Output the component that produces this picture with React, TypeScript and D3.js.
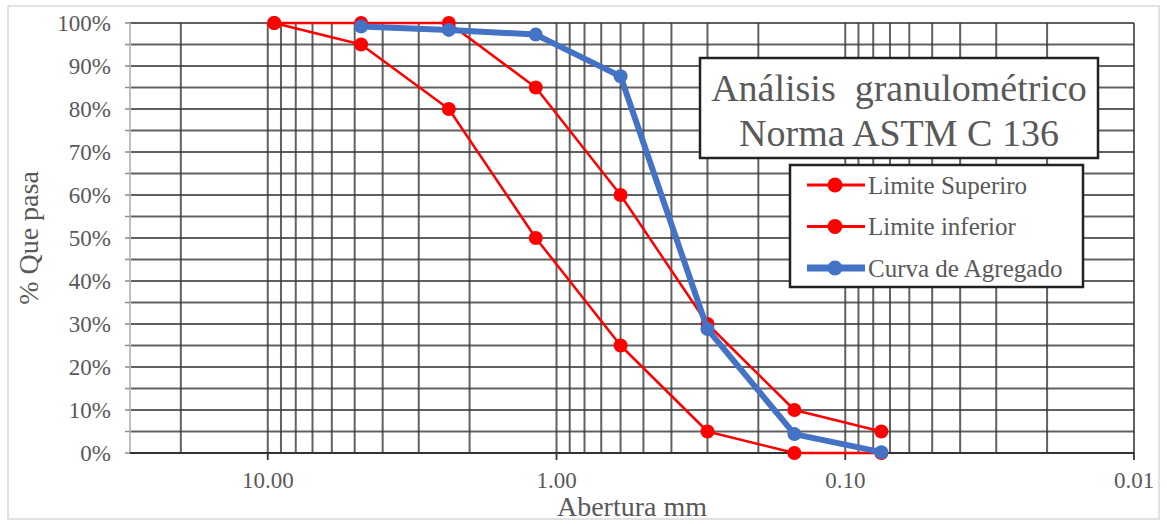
import React from "react";
import * as d3 from "d3";

// sieve openings in mm
const sieveSizes = [9.5, 4.75, 2.36, 1.18, 0.6, 0.3, 0.15, 0.075];
const upperLimit = [100, 100, 100, 85, 60, 30, 10, 5];
const lowerLimit = [100, 95, 80, 50, 25, 5, 0, 0];
const aggregateSizes = [4.75, 2.36, 1.18, 0.6, 0.3, 0.15, 0.075];
const aggregateCurve = [99.2, 98.4, 97.3, 87.6, 28.8, 4.4, 0.2];

const xTickValues = [10, 1, 0.1, 0.01];
const yTickValues = [0, 10, 20, 30, 40, 50, 60, 70, 80, 90, 100];

const titleLines = ["Análisis  granulométrico", "Norma ASTM C 136"];
const legendLabels = ["Limite Superiro", "Limite inferior", "Curva de Agregado"];

const serif = "'Liberation Serif', 'Times New Roman', serif";

const App = () => {
    const layout = { width: 1167, height: 524 };
    const plot = { left: 130, right: 1134, top: 23, bottom: 453 };

    const xScale = d3.scaleLog().domain([30, 0.01]).range([plot.left, plot.right]);
    const yScale = d3.scaleLinear().domain([0, 100]).range([plot.bottom, plot.top]);

    const lineGen = d3
        .line<[number, number]>()
        .x(d => xScale(d[0]))
        .y(d => yScale(d[1]));

    // minor grid: 1..9 in each decade, inside the domain
    const vLines: number[] = [];
    [10, 1, 0.1, 0.01].forEach(dec => {
        for (let m = 1; m <= 9; m++) {
            const v = dec * m;
            if (v < 30 && v >= 0.01) vLines.push(v);
        }
    });
    const hLines = d3.range(0, 101, 5);

    const upper = sieveSizes.map((s, i) => [s, upperLimit[i]] as [number, number]);
    const lower = sieveSizes.map((s, i) => [s, lowerLimit[i]] as [number, number]);
    const agg = aggregateSizes.map((s, i) => [s, aggregateCurve[i]] as [number, number]);

    const series = [
        { label: legendLabels[0], data: upper, color: "#ff0000", width: 2.5, lw: 3, r: 7 },
        { label: legendLabels[1], data: lower, color: "#ff0000", width: 2.5, lw: 3, r: 7 },
        { label: legendLabels[2], data: agg, color: "#4472c4", width: 6, lw: 7, r: 7 }
    ];

    const gridColor = "#3a3a3a";
    const textColor = "#595959";

    return (
        <svg
            width={layout.width}
            height={layout.height}
            style={{ position: "absolute", left: 0, top: 0, background: "#fff" }}
        >
            <rect x={8} y={6} width={1151} height={513} fill="#fff" stroke="#d9d9d9" strokeWidth={1.5} />

            {vLines.map(v => (
                <line
                    key={"v" + v}
                    x1={xScale(v)}
                    x2={xScale(v)}
                    y1={plot.top}
                    y2={plot.bottom}
                    stroke={gridColor}
                    strokeWidth={2}
                    strokeOpacity={0.8}
                />
            ))}
            {hLines.map(v => (
                <line
                    key={"h" + v}
                    x1={plot.left}
                    x2={plot.right}
                    y1={yScale(v)}
                    y2={yScale(v)}
                    stroke={gridColor}
                    strokeWidth={2}
                    strokeOpacity={0.8}
                />
            ))}
            {/* axes */}
            <line x1={plot.left} x2={plot.left} y1={plot.top} y2={plot.bottom} stroke="#bfbfbf" strokeWidth={2} />
            {hLines.map(v => (
                <line
                    key={"yt" + v}
                    x1={plot.left - 5}
                    x2={plot.left}
                    y1={yScale(v)}
                    y2={yScale(v)}
                    stroke="#8c8c8c"
                    strokeWidth={1.5}
                />
            ))}
            <line x1={plot.left} x2={plot.right} y1={plot.bottom} y2={plot.bottom} stroke="#333" strokeWidth={2} />
            {xTickValues.map(v => (
                <line
                    key={"xt" + v}
                    x1={xScale(v)}
                    x2={xScale(v)}
                    y1={plot.bottom}
                    y2={plot.bottom + 7}
                    stroke="#333"
                    strokeWidth={1.8}
                />
            ))}

            {yTickValues.map(v => (
                <text
                    key={"yl" + v}
                    x={plot.left - 19}
                    y={yScale(v)}
                    dy="0.35em"
                    textAnchor="end"
                    fontFamily={serif}
                    fontSize={23}
                    fill={textColor}
                >
                    {v}%
                </text>
            ))}
            {xTickValues.map(v => (
                <text
                    key={"xl" + v}
                    x={xScale(v)}
                    y={488}
                    textAnchor="middle"
                    fontFamily={serif}
                    fontSize={23}
                    fill={textColor}
                >
                    {d3.format(".2f")(v)}
                </text>
            ))}
            <text x={632} y={516} textAnchor="middle" fontFamily={serif} fontSize={28} fill={textColor}>
                Abertura mm
            </text>
            <text
                transform="translate(38,238) rotate(-90)"
                textAnchor="middle"
                fontFamily={serif}
                fontSize={28}
                fill={textColor}
            >
                % Que pasa
            </text>

            {series.map(s => (
                <g key={s.label}>
                    <path d={lineGen(s.data) || ""} fill="none" stroke={s.color} strokeWidth={s.width} strokeLinejoin="round" />
                    {s.data.map((d, i) => (
                        <circle key={i} cx={xScale(d[0])} cy={yScale(d[1])} r={s.r} fill={s.color} />
                    ))}
                </g>
            ))}

            {/* title box */}
            <rect x={700} y={58} width={398} height={100} fill="#fff" stroke="#222" strokeWidth={2.5} />
            {titleLines.map((t, i) => (
                <text
                    key={t}
                    x={899}
                    y={101 + i * 45}
                    textAnchor="middle"
                    fontFamily={serif}
                    fontSize={38}
                    fill={textColor}
                    style={{ whiteSpace: "pre" }}
                >
                    {t}
                </text>
            ))}

            {/* legend */}
            <rect x={790} y={165} width={293} height={122} fill="#fff" stroke="#222" strokeWidth={2.5} />
            {series.map((s, i) => {
                const y = 185 + i * 41.5;
                return (
                    <g key={"lg" + s.label}>
                        <line x1={807} x2={865} y1={y} y2={y} stroke={s.color} strokeWidth={s.lw} />
                        <circle cx={835} cy={y} r={7.5} fill={s.color} />
                        <text x={868} y={y} dy="0.35em" fontFamily={serif} fontSize={25} fill={textColor}>
                            {s.label}
                        </text>
                    </g>
                );
            })}
        </svg>
    );
};

export default App;
